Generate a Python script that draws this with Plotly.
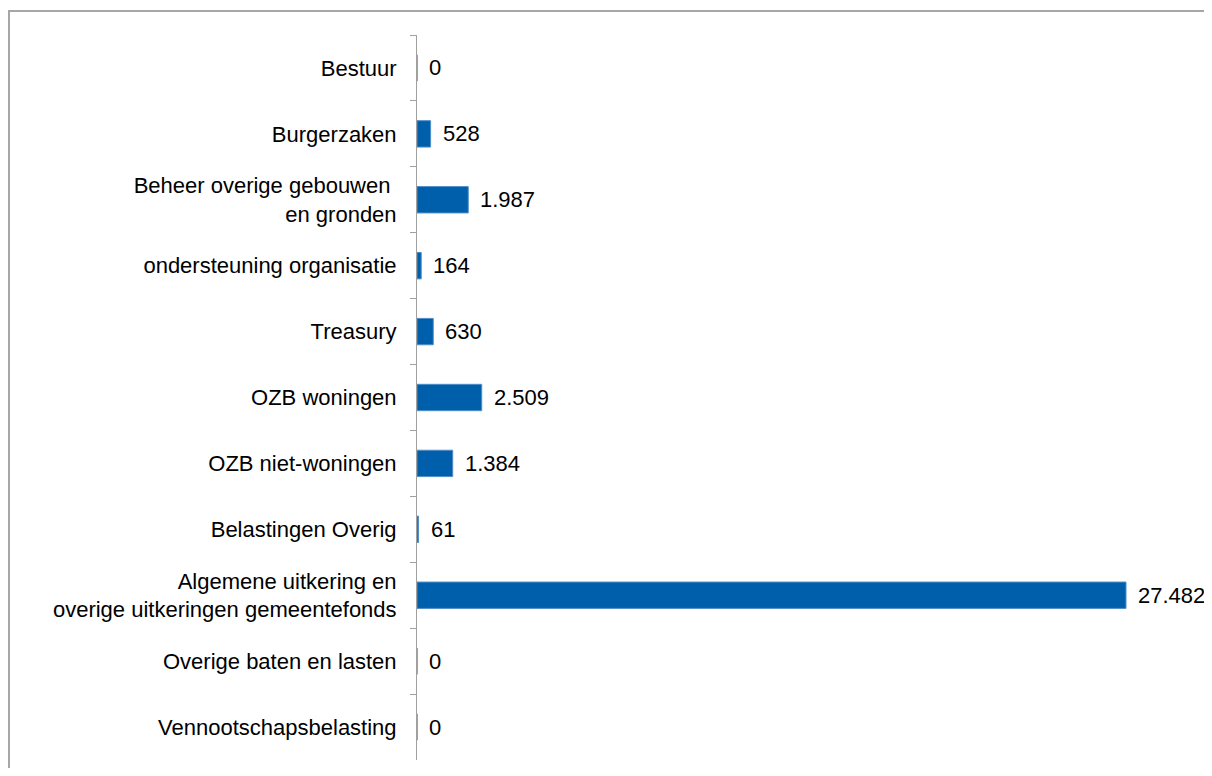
import plotly.graph_objects as go

categories = [
    "Bestuur",
    "Burgerzaken",
    "Beheer overige gebouwen\u00a0<br>en gronden",
    "ondersteuning organisatie",
    "Treasury",
    "OZB woningen",
    "OZB niet-woningen",
    "Belastingen Overig",
    "Algemene uitkering en<br>overige uitkeringen gemeentefonds",
    "Overige baten en lasten",
    "Vennootschapsbelasting",
]
values = [0, 528, 1987, 164, 630, 2509, 1384, 61, 27482, 0, 0]
value_labels = [f"{v:,}".replace(",", ".") for v in values]

OFF = 8  # page body margin in the browser
W, H = 1212 - 2 * OFF, 776 - 2 * OFF
ML = 417 - OFF
MT = 35 - OFF
MB = H - (760 - OFF)
MR = W - (1200 - OFF)
pw = W - ML - MR
ph = H - MT - MB
xmax = 27482 * pw / 709.0

FONT = "Liberation Sans, Arial"
FS = 22

fig = go.Figure()
fig.add_trace(go.Bar(
    x=values, y=categories, orientation="h",
    marker=dict(color="#005FAA", line=dict(color="#4F8FC8", width=1)),
    width=0.4, hoverinfo="skip",
))

for c, v, t in zip(categories, values, value_labels):
    fig.add_annotation(x=v, y=c, text=t, showarrow=False, xanchor="left",
                       xshift=10, font=dict(size=FS, color="#000000", family=FONT))

def px_x(px):
    return (px - OFF - ML) / pw

def px_y(py):
    return (H - MB - (py - OFF)) / ph

fig.add_shape(type="rect", xref="paper", yref="paper",
              x0=px_x(9), x1=px_x(1260), y0=px_y(11), y1=px_y(840),
              line=dict(color="#A6A6A6", width=2), layer="below")

fig.update_layout(
    width=W, height=H,
    margin=dict(l=ML, r=MR, t=MT, b=MB),
    plot_bgcolor="white", paper_bgcolor="white",
    showlegend=False,
    font=dict(family=FONT, size=FS, color="#000000"),
    xaxis=dict(range=[0, xmax], visible=False, showgrid=False, zeroline=False),
    yaxis=dict(
        categoryorder="array", categoryarray=categories,
        autorange="reversed",
        showline=True, linecolor="#A0A0A0", linewidth=1,
        ticks="outside", ticklen=6, tickcolor="#A0A0A0", tickwidth=1,
        tickson="boundaries", showgrid=False, zeroline=False,
        ticklabelstandoff=15,
        tickfont=dict(size=FS, color="#000000", family=FONT),
    ),
)

fig.write_html("out.html")
